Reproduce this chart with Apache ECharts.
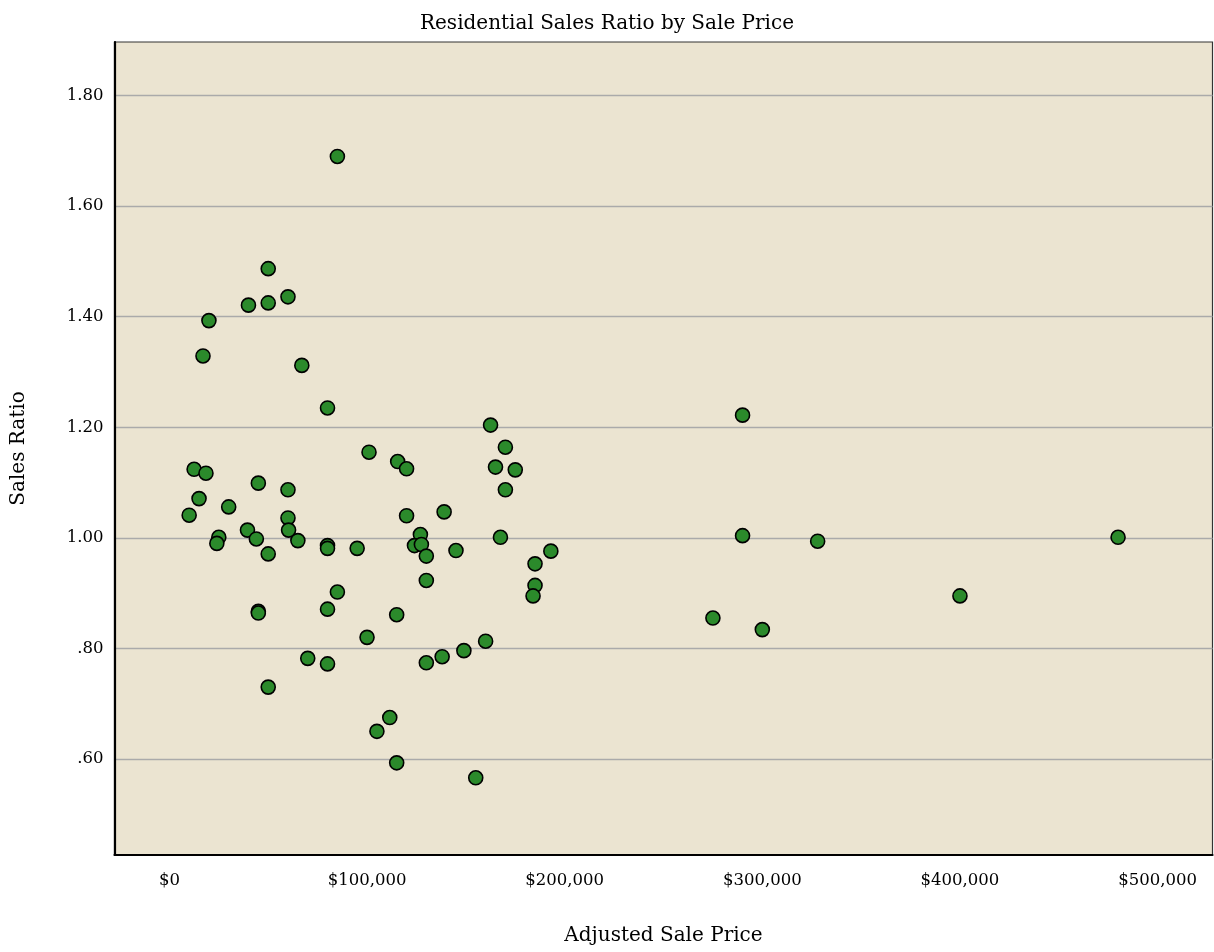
<!DOCTYPE html>
<html><head><meta charset="utf-8">
<script src="https://cdn.jsdelivr.net/npm/echarts@6/dist/echarts.min.js"></script>
<style>html,body{margin:0;padding:0;background:#fff}#c{width:1214px;height:952px}</style>
</head><body><div id="c"></div>
<script>
const chartTitle = 'Residential Sales Ratio by Sale Price';
const xAxisName = 'Adjusted Sale Price';
const yAxisName = 'Sales Ratio';
const salePrices = [85000,50000,40000,50000,60000,20000,17000,67000,80000,162500,
  290000,101000,115500,12500,18500,120000,170000,165000,175000,170000,
  45000,60000,15000,30000,10000,60000,120000,139000,39500,60300,
  25000,24000,44000,65000,80000,80000,95000,50000,127000,124000,
  127500,130000,145000,167500,193000,185000,185000,184000,130000,85000,
  80000,45000,45000,115000,100000,160000,149000,138000,130000,70000,
  80000,50000,111500,105000,115000,155000,290000,328000,275000,300000,
  400000,480000];
const salesRatios = [1.690,1.487,1.421,1.425,1.436,1.393,1.329,1.312,1.235,1.204,
  1.222,1.155,1.138,1.124,1.117,1.125,1.164,1.128,1.123,1.087,
  1.099,1.087,1.071,1.056,1.041,1.036,1.040,1.047,1.014,1.014,
  1.001,0.990,0.998,0.995,0.986,0.981,0.981,0.971,1.006,0.986,
  0.988,0.967,0.977,1.001,0.976,0.953,0.914,0.895,0.923,0.902,
  0.871,0.867,0.864,0.861,0.820,0.813,0.796,0.785,0.774,0.782,
  0.772,0.730,0.675,0.650,0.593,0.566,1.004,0.994,0.855,0.834,
  0.895,1.001];
const xTickValues = [0,100000,200000,300000,400000,500000];
const yTickValues = [0.6,0.8,1.0,1.2,1.4,1.6,1.8];

const points = salePrices.map((p, i) => [p, salesRatios[i]]);
const FONT = 'DejaVu Serif';

const chart = echarts.init(document.getElementById('c'), null, {renderer: 'canvas'});
chart.setOption({
  animation: false,
  backgroundColor: '#ffffff',
  title: {
    text: chartTitle, left: 'center', top: 9,
    textStyle: {fontFamily: FONT, fontSize: 20, fontWeight: 'normal', color: '#000'}
  },
  grid: {
    left: 114.5, right: 1.5, top: 42, bottom: 97,
    show: true, backgroundColor: '#EBE4D1', borderColor: '#333', borderWidth: 1.2
  },
  xAxis: {
    type: 'value', min: -27777.8, max: 527777.8,
    name: xAxisName, nameLocation: 'middle', nameGap: 71,
    nameTextStyle: {fontFamily: FONT, fontSize: 20, color: '#000'},
    axisLine: {show: true, onZero: false, lineStyle: {color: '#000', width: 2.2}},
    axisTick: {show: false, customValues: xTickValues},
    splitLine: {show: false},
    axisLabel: {
      customValues: xTickValues, margin: 17,
      fontFamily: FONT, fontSize: 16.5, color: '#000',
      formatter: v => '$' + Math.round(v).toLocaleString('en-US')
    }
  },
  yAxis: {
    type: 'value', min: 0.4263, max: 1.897,
    name: yAxisName, nameLocation: 'middle', nameGap: 86, nameRotate: 90,
    nameTextStyle: {fontFamily: FONT, fontSize: 20, color: '#000'},
    axisLine: {show: true, onZero: false, lineStyle: {color: '#000', width: 2.2}},
    axisTick: {show: false, customValues: yTickValues},
    splitLine: {show: true, lineStyle: {color: '#AAAAAA', width: 1.3}},
    axisLabel: {
      customValues: yTickValues, margin: 11,
      fontFamily: FONT, fontSize: 16.5, color: '#000',
      formatter: v => v.toFixed(2).replace(/^0/, '')
    }
  },
  series: [{
    type: 'scatter',
    data: points,
    symbol: 'circle',
    symbolSize: 14,
    itemStyle: {color: '#2B8A2B', borderColor: '#000', borderWidth: 1.6, opacity: 1}
  }]
});
</script>
</body></html>
